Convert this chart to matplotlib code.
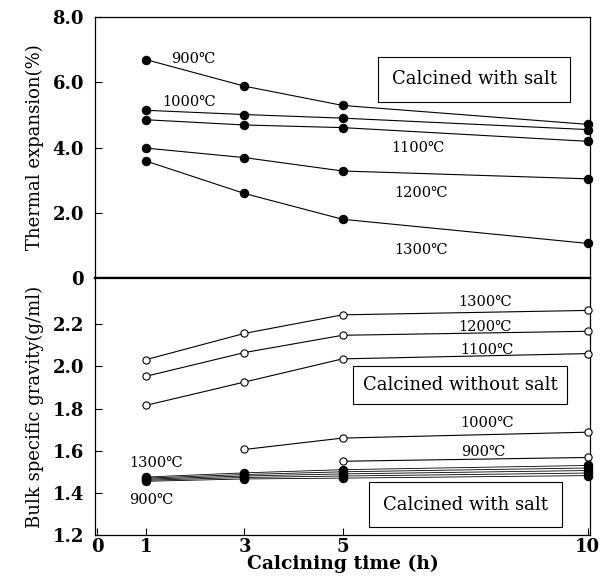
import matplotlib
matplotlib.use("Agg")
import matplotlib.pyplot as plt

plt.rcParams['font.family'] = ['DejaVu Serif', 'Noto Sans CJK JP']
plt.rcParams['mathtext.fontset'] = 'dejavuserif'

# calcining time (h)
hours = [1, 3, 5, 10]

# thermal expansion (%), calcined with salt
temps = ["900℃", "1000℃", "1100℃", "1200℃", "1300℃"]
expansion = {
    "900℃": [6.69, 5.88, 5.29, 4.71],
    "1000℃": [5.14, 5.01, 4.90, 4.55],
    "1100℃": [4.85, 4.69, 4.61, 4.19],
    "1200℃": [3.98, 3.69, 3.28, 3.04],
    "1300℃": [3.58, 2.59, 1.80, 1.06],
}

# bulk specific gravity (g/ml), calcined without salt
gravity_no_salt = {
    "1300℃": ([1, 3, 5, 10], [2.033, 2.157, 2.245, 2.266]),
    "1200℃": ([1, 3, 5, 10], [1.954, 2.066, 2.148, 2.167]),
    "1100℃": ([1, 3, 5, 10], [1.816, 1.926, 2.036, 2.061]),
    "1000℃": ([3, 5, 10], [1.606, 1.660, 1.688]),
    "900℃": ([5, 10], [1.550, 1.568]),
}

# bulk specific gravity (g/ml), calcined with salt
gravity_salt = {
    "1300℃": [1.475, 1.495, 1.510, 1.530],
    "1200℃": [1.470, 1.487, 1.500, 1.518],
    "1100℃": [1.465, 1.480, 1.490, 1.506],
    "1000℃": [1.460, 1.473, 1.480, 1.494],
    "900℃": [1.455, 1.466, 1.470, 1.482],
}

fig = plt.figure(figsize=(6.13, 5.79), dpi=100)
ax1 = fig.add_axes([0.155, 0.5199, 0.8075, 0.4507])
ax2 = fig.add_axes([0.155, 0.076, 0.8075, 0.4439], sharex=ax1)

lw = 0.8
for t in temps:
    ax1.plot(hours, expansion[t], color='black', lw=lw, marker='o', ms=5.8,
             mfc='black', mec='black', clip_on=False, zorder=3)

top_labels = {
    "900℃": (1.5, 6.72), "1000℃": (1.32, 5.39), "1100℃": (6.0, 4.0),
    "1200℃": (6.06, 2.59), "1300℃": (6.06, 0.86),
}
for t, (x, y) in top_labels.items():
    ax1.text(x, y, t, fontsize=10.5, va='center', ha='left')

box = dict(boxstyle='square,pad=0.75', fc='white', ec='black', lw=0.8)
ax1.text(7.69, 6.09, "Calcined with salt", fontsize=13, ha='center', va='center',
         bbox=box)

ax1.set_xlim(-0.05, 10.05)
ax1.set_ylim(0, 8)
ax1.set_yticks([0, 2, 4, 6, 8])
ax1.set_yticklabels(["0", "2.0", "4.0", "6.0", "8.0"])
ax1.set_ylabel("Thermal expansion(%)", fontsize=13, labelpad=6)
ax1.tick_params(axis='x', which='both', bottom=False, labelbottom=False)

for t, (xs, ys) in gravity_no_salt.items():
    ax2.plot(xs, ys, color='black', lw=lw, marker='o', ms=5.2,
             mfc='white', mec='black', mew=0.8, clip_on=False, zorder=3)
for t, ys in gravity_salt.items():
    ax2.plot(hours, ys, color='black', lw=0.6, marker='o', ms=5.8,
             mfc='black', mec='black', clip_on=False, zorder=4)

right_labels = {
    "1300℃": (7.37, 2.307), "1200℃": (7.37, 2.189), "1100℃": (7.41, 2.079),
    "1000℃": (7.41, 1.73), "900℃": (7.42, 1.594),
}
for t, (x, y) in right_labels.items():
    ax2.text(x, y, t, fontsize=10.5, va='center', ha='left')
ax2.text(0.65, 1.543, "1300℃", fontsize=10.5, va='center', ha='left')
ax2.text(0.65, 1.365, "900℃", fontsize=10.5, va='center', ha='left')

ax2.text(7.4, 1.914, "Calcined without salt", fontsize=13, ha='center', va='center',
         bbox=dict(boxstyle='square,pad=0.55', fc='white', ec='black', lw=0.8))
ax2.text(7.51, 1.344, "Calcined with salt", fontsize=13, ha='center', va='center',
         bbox=box)

ax2.set_ylim(1.2, 2.42)
ax2.set_yticks([1.2, 1.4, 1.6, 1.8, 2.0, 2.2])
ax2.set_yticklabels(["1.2", "1.4", "1.6", "1.8", "2.0", "2.2"])
ax2.set_xticks([0, 1, 3, 5, 10])
ax2.set_xticklabels(["0", "1", "3", "5", "10"])
ax2.set_ylabel("Bulk specific gravity(g/ml)", fontsize=13, labelpad=6)
ax2.set_xlabel("Calcining time (h)", fontsize=13.5, fontweight='bold', labelpad=-1)

for ax in (ax1, ax2):
    ax.tick_params(direction='in', length=5, width=0.8, labelsize=13, pad=8)
    for s in ax.spines.values():
        s.set_linewidth(0.9)
    for lbl in ax.get_yticklabels() + ax.get_xticklabels():
        lbl.set_fontweight('bold')
ax2.tick_params(axis='x', pad=2)
ax2.spines['top'].set_linewidth(1.6)
ax1.spines['bottom'].set_linewidth(1.6)

fig.savefig("out.png", dpi=100)
